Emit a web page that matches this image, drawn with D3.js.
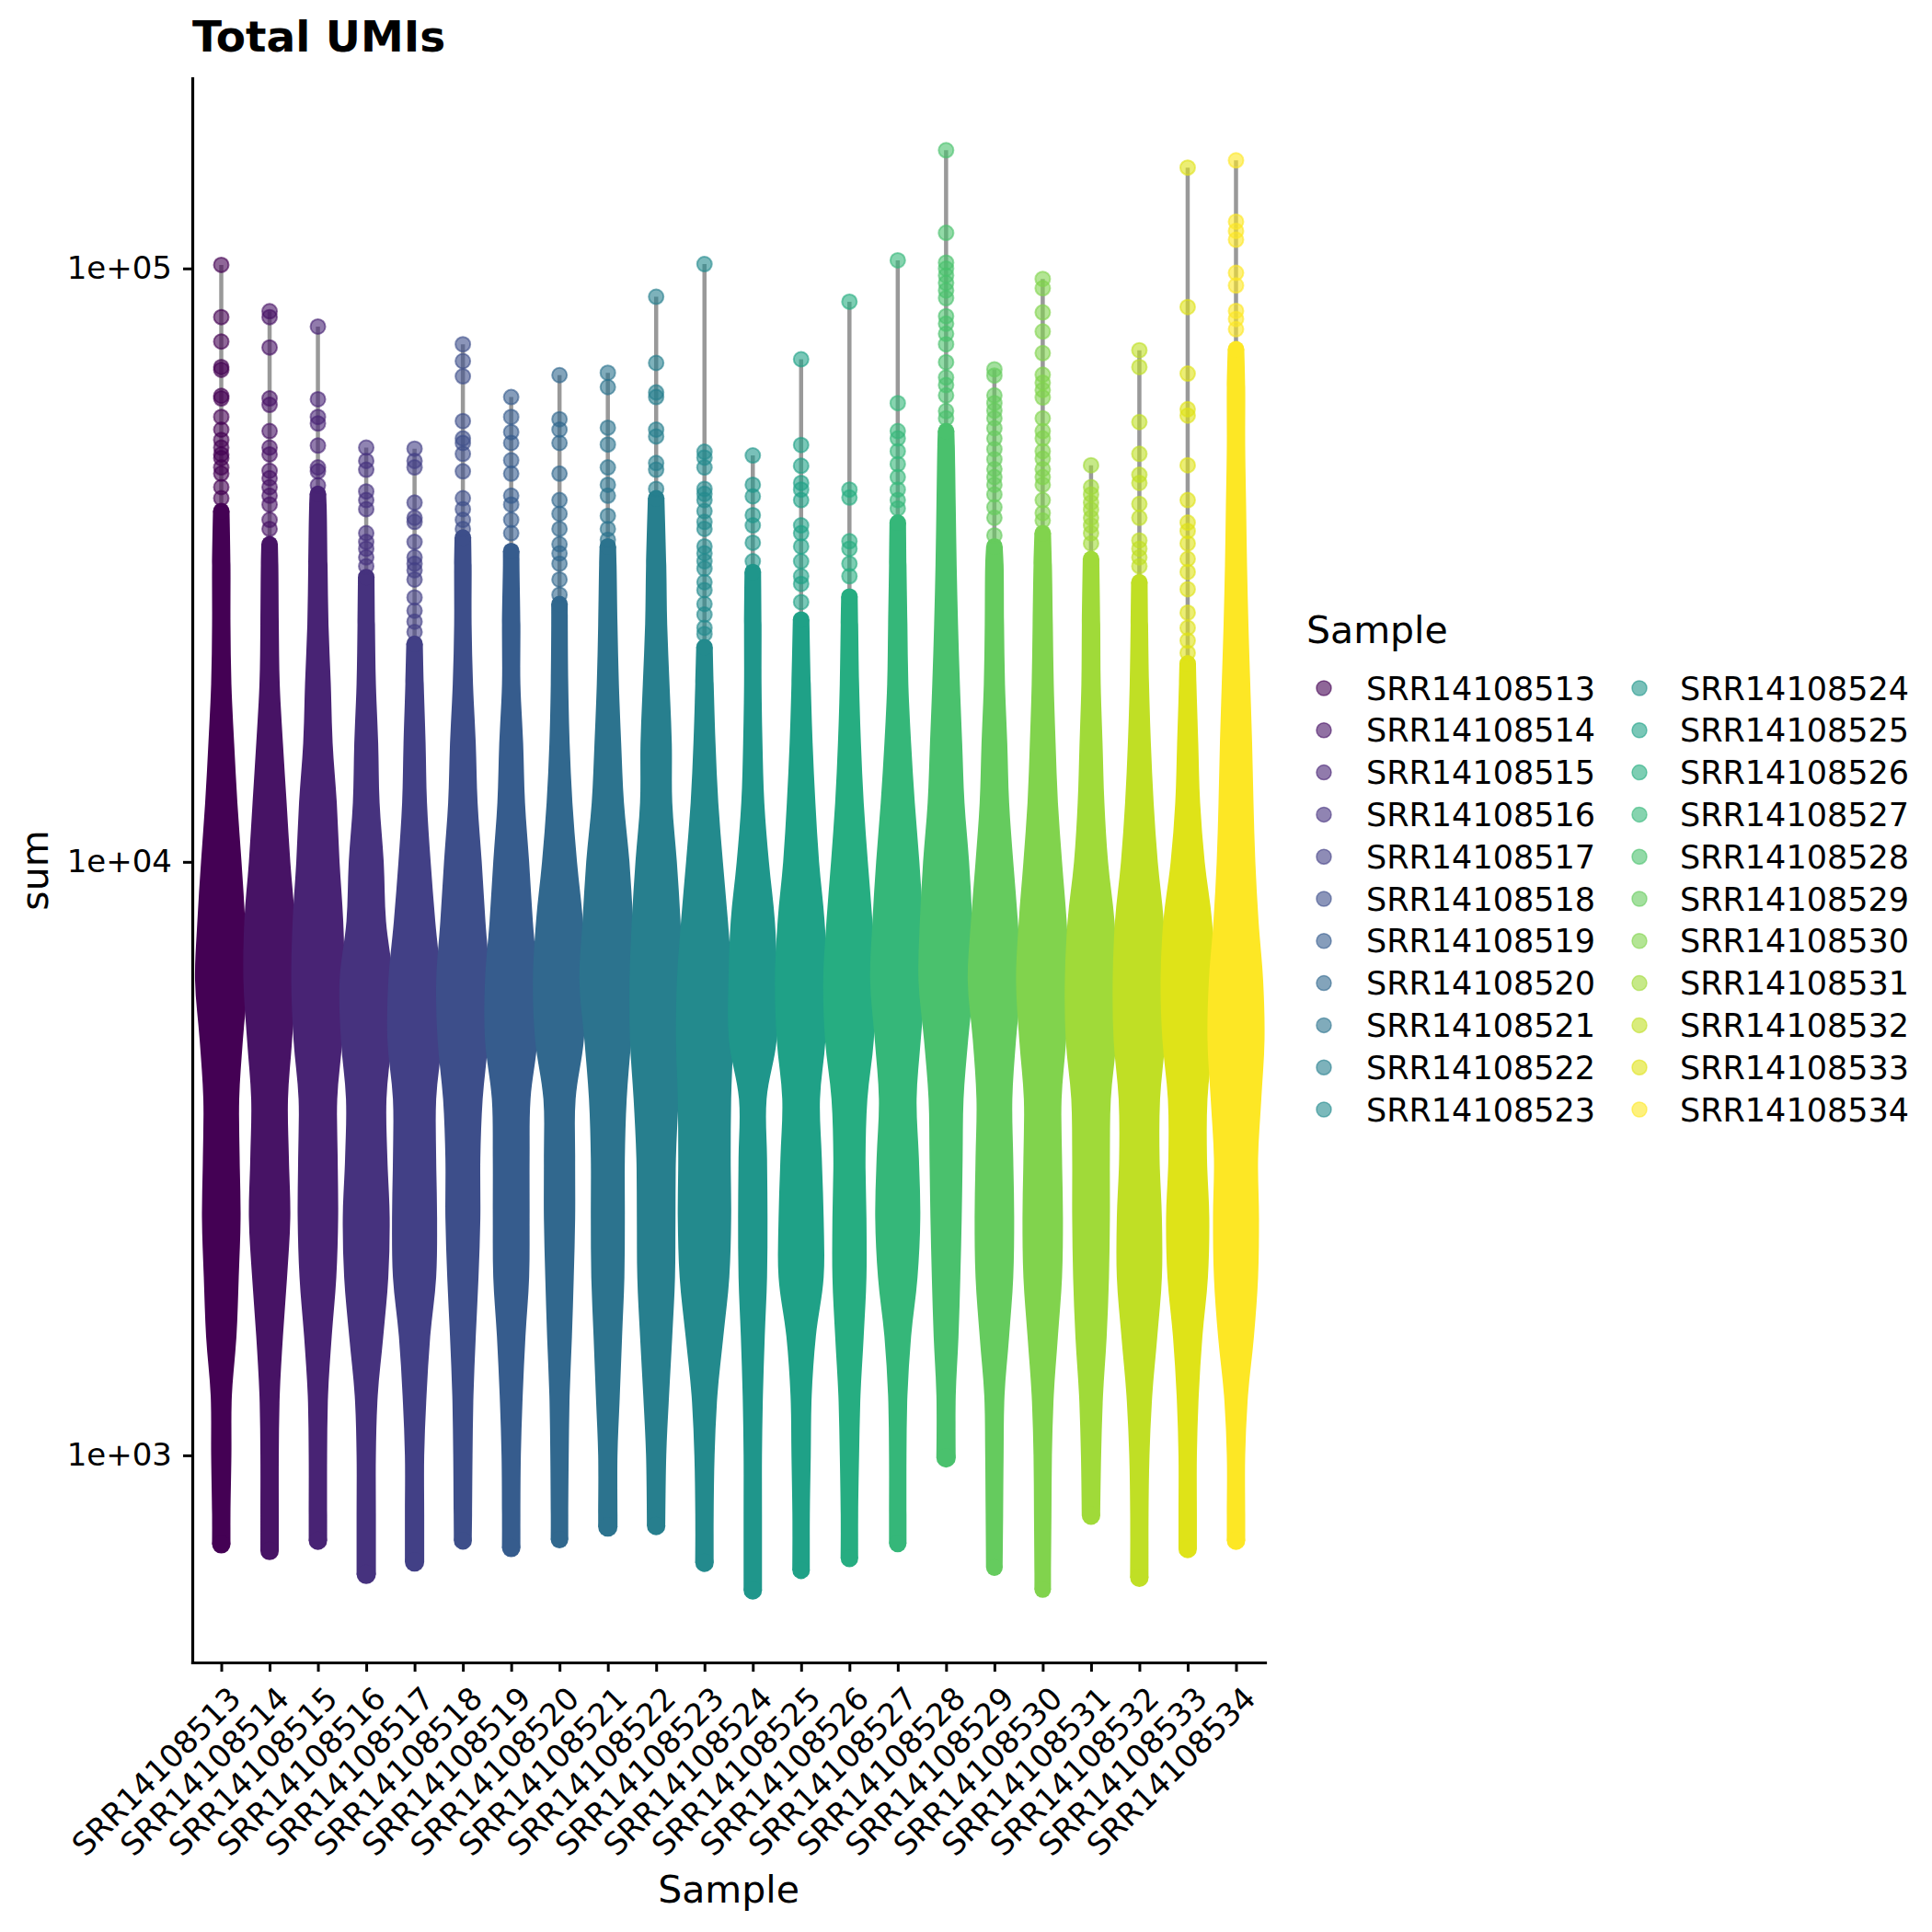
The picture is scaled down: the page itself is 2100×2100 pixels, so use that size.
<!DOCTYPE html>
<html><head><meta charset="utf-8">
<script src="https://cdn.jsdelivr.net/npm/d3@7"></script>
<style>body{margin:0;background:#fff} svg{display:block} text{font-family:"DejaVu Sans",sans-serif}</style>
</head><body>
<svg id="chart" width="2100" height="2100"></svg>
<script>
// ---------------- data ----------------
const samples = ["SRR14108513","SRR14108514","SRR14108515","SRR14108516","SRR14108517","SRR14108518",
  "SRR14108519","SRR14108520","SRR14108521","SRR14108522","SRR14108523","SRR14108524","SRR14108525",
  "SRR14108526","SRR14108527","SRR14108528","SRR14108529","SRR14108530","SRR14108531","SRR14108532",
  "SRR14108533","SRR14108534"];
const yTickValues = [1e3, 1e4, 1e5];
const yTickLabels = ["1e+03", "1e+04", "1e+05"];
// lowest cell total per sample
const minUMI = [708, 690, 718, 630, 661, 718, 698, 721, 757, 760, 659, 592, 640, 670, 710, 990, 647, 594, 791, 622, 695, 718];
// level above which cells are sparse (individual points)
const denseTopUMI = [39000, 34300, 41700, 30200, 23300, 35200, 33400, 27200, 34000, 41000, 23000, 30800, 25600, 28000, 37300, 53200, 34000, 35800, 32400, 29600, 21600, 73100];
// log10(UMI) levels at which the relative cell density is read
const densityLevels = [2.8, 2.9, 3.0, 3.1, 3.2, 3.3, 3.4, 3.5, 3.6, 3.7, 3.8, 3.9, 4.0, 4.1, 4.2, 4.3, 4.4, 4.5, 4.6, 4.7, 4.8];
// relative cell density (arbitrary units) per sample at densityLevels
const density = [
  [2,2,4,5,15,20,24,22,21,29,39,34,26,17,10,4,2,2,1,0,0],
  [2,2,2,4,11,20,27,24,22,31,39,37,27,19,11,4,2,1,0,0,0],
  [2,2,2,4,12,22,26,25,24,35,40,37,29,23,14,10,5,3,1,0,0],
  [3,3,3,7,19,30,33,28,26,37,40,25,20,11,8,3,1,0,0,0,0],
  [3,3,3,8,16,29,31,29,29,41,39,27,17,9,6,2,1,0,0,0,0],
  [1,2,3,5,10,16,20,20,25,37,40,31,23,14,10,4,1,1,0,0,0],
  [2,2,3,7,13,21,22,22,24,39,39,29,21,12,8,2,2,0,0,0,0],
  [1,1,2,4,9,13,16,16,17,35,40,33,20,10,4,1,0,0,0,0,0],
  [3,3,3,8,13,18,19,19,23,33,44,37,29,17,11,6,3,1,0,0,0],
  [2,2,4,10,17,23,24,25,31,39,40,35,27,17,16,11,6,4,2,0,0],
  [2,2,4,10,23,36,40,39,40,44,42,33,22,12,6,2,0,0,0,0,0],
  [2,2,2,4,8,13,14,13,12,34,35,30,17,7,3,1,1,0,0,0,0],
  [1,1,3,5,14,31,31,27,23,35,39,33,21,13,7,3,1,0,0,0,0],
  [1,1,3,6,13,19,19,17,21,35,39,32,22,13,7,3,1,0,0,0,0],
  [1,1,1,3,11,25,31,28,23,32,42,37,29,19,11,5,3,1,0,0,0],
  [3,3,3,3,9,13,16,18,20,30,42,39,32,22,17,12,8,5,3,1,0],
  [0,1,2,4,14,23,25,23,21,29,40,33,23,14,10,5,3,2,0,0,0],
  [0,1,2,6,15,24,26,24,23,33,40,34,24,15,10,6,4,2,0,0,0],
  [2,2,4,8,16,21,23,23,25,37,39,33,19,11,7,3,2,0,0,0,0],
  [2,2,4,10,21,31,31,26,27,38,40,35,22,13,7,3,1,0,0,0,0],
  [2,2,2,6,14,26,29,24,25,37,41,35,19,9,5,1,0,0,0,0,0],
  [2,2,2,8,21,30,32,30,37,44,41,31,24,20,17,13,9,6,4,2,2]
];
// individual high-UMI cells (first value = maximum)
const highCells = [
  [101400,82800,75300,68200,67500,61000,60400,56200,53500,51400,49900,48600,47900,46200,45100,42800,41000],
  [84700,82800,73600,60400,58900,53200,49900,48600,45600,44300,42800,41400,40000,37700,36400],
  [79800,60200,56200,54800,50300,46200,45500,43100],
  [49900,47400,45800,42100,40700,39300,35800,34600,33700,32600,31500],
  [49700,47400,46200,40300,38000,37400,34600,32600,31800,31000,29900,27900,26500,25400,24400],
  [74500,69800,65800,55300,51700,50800,48700,45500,41000,39300,37700,36400],
  [60700,56200,53000,50800,47500,45100,41400,40000,37700,35800],
  [66100,55700,53500,50800,45100,40700,38600,36400,34300,33100,31800,29900,28200],
  [66700,63100,53900,50500,46200,43200,41400,38300,36400,34900],
  [89600,69300,61800,60700,53500,52100,47000,45800,42500],
  [101700,49100,48000,46200,42500,41700,40700,39000,37400,36400,34000,33100,32100,31200,29600,28700,27200,26100,24800,24200],
  [48400,43200,41300,38400,36900,34500,32100],
  [70300,50400,46500,43500,42400,40700,36900,35800,34000,32100,30300,29400,27400],
  [87900,42400,41100,34700,33700,31800,30300],
  [103200,59300,53200,51700,49200,46800,44500,42400,40700,39400],
  [158200,114800,102300,99900,97300,94500,91800,89100,83100,80700,77600,74500,69500,65500,63600,61100,57500,55900],
  [67600,66000,61100,59300,57600,55900,53800,51700,49600,47700,45900,44500,43200,41600,39600,38000,35500],
  [96000,92600,84300,78300,72000,66200,64200,62400,60600,55900,53200,51700,49200,47800,45900,44500,43200,40700,38700,37600],
  [46600,42800,41600,40300,39200,38000,36900,35800,34400],
  [72800,68200,55100,48700,44900,43500,40100,38000,34800,33700,32600,31500],
  [147900,86100,66500,57900,56500,46600,40700,37300,36100,34400,32400,30800,28800,26300,24800,23600,22500],
  [152100,119900,115700,111800,98300,93600,84800,82200,79000]
];

// ---------------- layout ----------------
const W = 2100, H = 2100;
const plot = {left: 209, right: 1375, top: 85, bottom: 1807};
const svg = d3.select('#chart');
svg.append('rect').attr('width', W).attr('height', H).attr('fill', '#fff');

const allVals = minUMI.concat(highCells.flat());
const lo = Math.log10(d3.min(allVals)), hi = Math.log10(d3.max(allVals));
const pad = (hi - lo) * 0.05;
const y = d3.scaleLog().domain([10 ** (lo - pad), 10 ** (hi + pad)]).range([plot.bottom, plot.top]);
const x = d3.scalePoint().domain(samples).range([plot.left, plot.right]).padding(0.6);
const color = d3.scaleOrdinal().domain(samples)
  .range(samples.map((s, i) => d3.interpolateViridis(i / (samples.length - 1))));
const R = 8;
const dens = d3.scaleLinear().domain([0, 44]).range([0, 22]);

function densAt(i, lv) {
  const L = densityLevels, D = density[i];
  if (lv <= L[0]) return D[0];
  if (lv >= L[L.length - 1]) return D[D.length - 1];
  const k = d3.bisectRight(L, lv) - 1;
  const t = (lv - L[k]) / (L[k + 1] - L[k]);
  return D[k] + t * (D[k + 1] - D[k]);
}

// violin outlines (collapsed to a grey line)
const gLines = svg.append('g');
samples.forEach((s, i) => {
  gLines.append('line')
    .attr('x1', x(s)).attr('x2', x(s))
    .attr('y1', y(minUMI[i])).attr('y2', y(highCells[i][0]))
    .attr('stroke', '#999999').attr('stroke-width', 4.5);
});

// dense bodies of cells
const gBody = svg.append('g');
samples.forEach((s, i) => {
  const cx = x(s), c = color(s);
  const a = Math.log10(minUMI[i]), b = Math.log10(denseTopUMI[i]);
  const pts = [{lv: a, d: densAt(i, a)}];
  densityLevels.forEach(lv => { if (lv > a + 0.02 && lv < b - 0.02) pts.push({lv, d: densAt(i, lv)}); });
  pts.push({lv: b, d: 0});
  const area = d3.area().curve(d3.curveCatmullRom.alpha(0.5))
    .y(p => y(10 ** p.lv))
    .x0(p => cx - R - 1 - dens(p.d))
    .x1(p => cx + R + 1 + dens(p.d));
  gBody.append('path').attr('d', area(pts)).attr('fill', c);
  gBody.append('circle').attr('cx', cx).attr('cy', y(minUMI[i])).attr('r', R + 1 + dens(pts[0].d)).attr('fill', c);
  gBody.append('circle').attr('cx', cx).attr('cy', y(denseTopUMI[i])).attr('r', R + 1).attr('fill', c);
});

// individual points
const gPts = svg.append('g');
samples.forEach((s, i) => {
  gPts.selectAll(null).data(highCells[i]).join('circle')
    .attr('cx', x(s)).attr('cy', d => y(d)).attr('r', R)
    .attr('fill', color(s)).attr('fill-opacity', 0.6)
    .attr('stroke', color(s)).attr('stroke-opacity', 0.6).attr('stroke-width', 2);
});

// axes
const yAxis = d3.axisLeft(y).tickValues(yTickValues)
  .tickFormat((d, k) => yTickLabels[k]).tickSize(10).tickSizeOuter(0).tickPadding(12);
const gy = svg.append('g').attr('transform', `translate(${plot.left},0)`).call(yAxis);
const xAxis = d3.axisBottom(x).tickSize(10).tickSizeOuter(0).tickFormat(() => '');
const gx = svg.append('g').attr('transform', `translate(0,${plot.bottom})`).call(xAxis);
[gx, gy].forEach(g => {
  g.select('.domain').attr('stroke', '#000').attr('stroke-width', 3.2).attr('stroke-linecap', 'square');
  g.selectAll('.tick line').attr('stroke', '#000').attr('stroke-width', 3);
});
gy.selectAll('.tick text').attr('font-size', 34).attr('fill', '#000')
  .attr('font-family', '"DejaVu Sans",sans-serif');

const gxl = svg.append('g');
samples.forEach(s => {
  gxl.append('text')
    .attr('transform', `translate(${x(s) + 6},${plot.bottom + 24}) rotate(-45)`)
    .attr('text-anchor', 'end').attr('dy', '0.72em')
    .attr('font-size', 34).attr('fill', '#000').text(s);
});

// titles
svg.append('text').attr('x', 209).attr('y', 56).attr('font-size', 47).attr('font-weight', 'bold')
  .attr('fill', '#000').text('Total UMIs');
svg.append('text').attr('x', (plot.left + plot.right) / 2).attr('y', 2068).attr('text-anchor', 'middle')
  .attr('font-size', 41).attr('fill', '#000').text('Sample');
svg.append('text').attr('transform', `translate(52,${(plot.top + plot.bottom) / 2}) rotate(-90)`)
  .attr('text-anchor', 'middle').attr('font-size', 41).attr('fill', '#000').text('sum');

// legend
const gLeg = svg.append('g');
gLeg.append('text').attr('x', 1420).attr('y', 699).attr('font-size', 41).attr('fill', '#000').text('Sample');
samples.forEach((s, i) => {
  const col = Math.floor(i / 11), row = i % 11;
  const cy = 748 + row * 45.8;
  gLeg.append('circle').attr('cx', 1439 + col * 343).attr('cy', cy).attr('r', R)
    .attr('fill', color(s)).attr('fill-opacity', 0.6)
    .attr('stroke', color(s)).attr('stroke-opacity', 0.6).attr('stroke-width', 1.5);
  gLeg.append('text').attr('x', 1485 + col * 341).attr('y', cy).attr('dy', '0.36em')
    .attr('font-size', 35).attr('fill', '#000').text(s);
});
</script>
</body></html>
